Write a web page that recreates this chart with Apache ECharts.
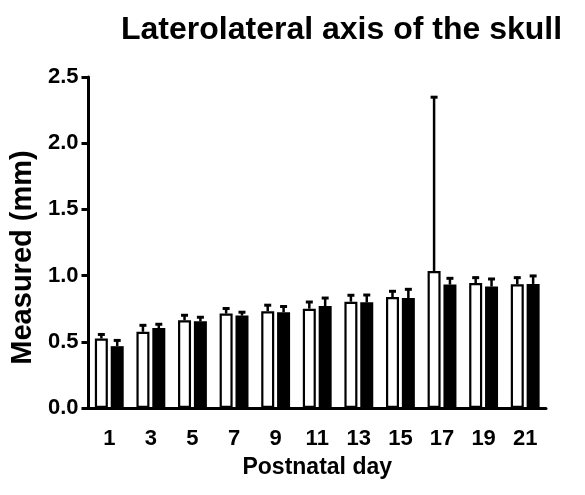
<!DOCTYPE html>
<html>
<head>
<meta charset="utf-8">
<script src="https://cdn.jsdelivr.net/npm/echarts@6/dist/echarts.min.js"></script>
<style>
  html, body { margin: 0; padding: 0; background: #fff; }
  #chart { width: 585px; height: 495px; }
</style>
</head>
<body>
<div id="chart"></div>
<script>
// Postnatal days on the x axis
const days = ['1', '3', '5', '7', '9', '11', '13', '15', '17', '19', '21'];

// Group A (open bars): mean and upper SD, mm
const groupA = [0.525, 0.576, 0.662, 0.713, 0.731, 0.750, 0.803, 0.838, 1.035, 0.944, 0.934];
const groupAErr = [0.038, 0.056, 0.046, 0.046, 0.053, 0.058, 0.056, 0.051, 1.320, 0.048, 0.058];

// Group B (filled bars): mean and upper SD, mm
const groupB = [0.467, 0.604, 0.655, 0.698, 0.723, 0.770, 0.798, 0.831, 0.932, 0.917, 0.937];
const groupBErr = [0.051, 0.036, 0.038, 0.033, 0.051, 0.068, 0.063, 0.073, 0.055, 0.065, 0.068];

// Y axis ticks
const yTicks = [0.0, 0.5, 1.0, 1.5, 2.0, 2.5];

const FONT = "'Liberation Sans', Arial, sans-serif";
const BAR_W = 13;
const BAR_GAP = 0.22;
const OFFSET = BAR_W * (1 + BAR_GAP) / 2;

// Upward SD whiskers with a short cap, placed over each bar of a group
function errorSeries(means, errs, side) {
  return {
    type: 'custom',
    z: 5,
    data: means.map((m, i) => [i, m, errs[i]]),
    encode: { x: 0, y: 1 },
    renderItem: function (params, api) {
      const i = api.value(0);
      const v = api.value(1);
      const e = api.value(2);
      const base = api.coord([i, v]);
      const tip = api.coord([i, v + e]);
      const x = base[0] + side * OFFSET;
      return {
        type: 'group',
        children: [
          { type: 'line', shape: { x1: x, y1: base[1], x2: x, y2: tip[1] },
            style: { stroke: '#000', lineWidth: 2.5 } },
          { type: 'line', shape: { x1: x - 3.5, y1: tip[1] + 1, x2: x + 3.5, y2: tip[1] + 1 },
            style: { stroke: '#000', lineWidth: 3 } }
        ]
      };
    }
  };
}

const chart = echarts.init(document.getElementById('chart'), null, { renderer: 'canvas' });
chart.setOption({
  backgroundColor: '#fff',
  animation: false,
  title: {
    text: 'Laterolateral axis of the skull',
    left: 116,
    top: 9,
    textStyle: { fontFamily: FONT, fontWeight: 'bold', fontSize: 32, color: '#000' }
  },
  grid: { left: 81, right: 39, top: 77, bottom: 87, containLabel: false },
  xAxis: {
    type: 'category',
    data: days,
    name: 'Postnatal day',
    nameLocation: 'middle',
    nameGap: 48,
    nameTextStyle: { fontFamily: FONT, fontWeight: 'bold', fontSize: 23, color: '#000' },
    axisLine: { lineStyle: { color: '#000', width: 3 } },
    axisTick: { alignWithLabel: true, length: 8, lineStyle: { color: '#000', width: 3 } },
    axisLabel: { fontFamily: FONT, fontWeight: 'bold', fontSize: 22, color: '#000', margin: 20 }
  },
  yAxis: {
    type: 'value',
    min: yTicks[0],
    max: yTicks[yTicks.length - 1],
    interval: 0.5,
    name: 'Measured (mm)',
    nameLocation: 'middle',
    nameGap: 44,
    nameTextStyle: { fontFamily: FONT, fontWeight: 'bold', fontSize: 29, color: '#000',
      padding: [0, 30, 0, 0] },
    axisLine: { show: true, lineStyle: { color: '#000', width: 3 } },
    axisTick: { show: true, length: 7, lineStyle: { color: '#000', width: 3 } },
    axisLabel: { fontFamily: FONT, fontWeight: 'bold', fontSize: 22, color: '#000', margin: 10,
      formatter: v => v.toFixed(1) },
    splitLine: { show: false }
  },
  series: [
    {
      type: 'bar',
      data: groupA,
      barWidth: BAR_W,
      barGap: (BAR_GAP * 100) + '%',
      itemStyle: { color: '#fff', borderColor: '#000', borderWidth: 2.2 },
      z: 3
    },
    {
      type: 'bar',
      data: groupB,
      barWidth: BAR_W,
      itemStyle: { color: '#000', borderColor: '#000', borderWidth: 0 },
      z: 3
    },
    errorSeries(groupA, groupAErr, -1),
    errorSeries(groupB, groupBErr, 1)
  ]
});
</script>
</body>
</html>
